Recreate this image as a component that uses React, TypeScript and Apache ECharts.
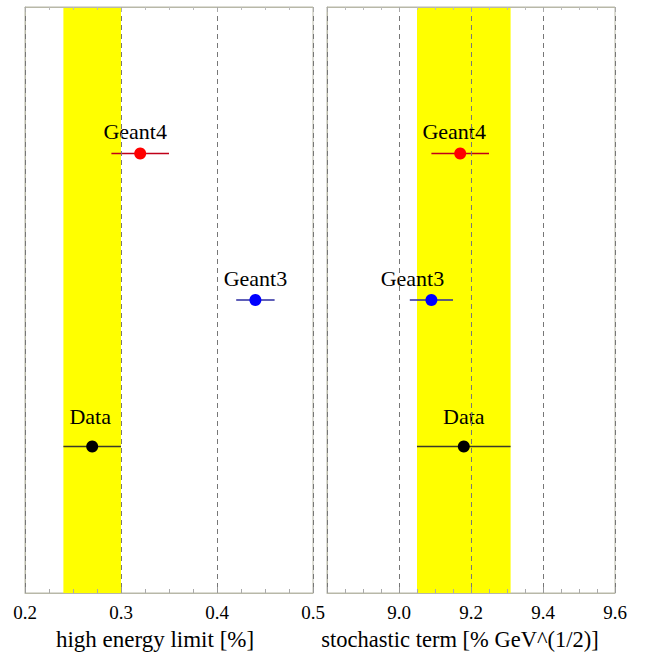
import React, { useEffect, useRef } from "react";
import * as echarts from "echarts";

const models = ["Data", "Geant3", "Geant4"];
const yPos = [1, 2, 3];
const hiEnergyVal = [0.27, 0.44, 0.32];
const hiEnergyErr = [0.03, 0.02, 0.03];
const stochVal = [9.18, 9.09, 9.17];
const stochErr = [0.13, 0.06, 0.08];
const hiEnergyBand = [0.24, 0.3];
const stochBand = [9.05, 9.31];
const hiEnergyAxis = { min: 0.2, max: 0.5, interval: 0.1 };
const stochAxis = { min: 8.8, max: 9.6, interval: 0.2 };

const pointColors = ["#000000", "#0000ff", "#ff0000"];
const barColors = ["#3a3a2a", "#2a2aa0", "#c00018"];
const leftLabelShift = [[-2, -8], [0, 0], [-5, 0]];
const rightLabelShift = [[0, -8], [-19, 0], [-6, 0]];

const FONT = "'Liberation Serif', 'DejaVu Serif', serif";

function bottomAxis(gridIndex: number, r: any, name: string, hideFirst: boolean, namePad: number, nameSize: number) {
  return {
    type: "value",
    gridIndex,
    position: "bottom",
    min: r.min,
    max: r.max,
    interval: r.interval,
    z: 10,
    name,
    nameLocation: "middle",
    nameGap: 35,
    nameTextStyle: { fontFamily: FONT, fontSize: nameSize, color: "#000", padding: [0, namePad, 0, 0] },
    axisLine: { show: true, lineStyle: { color: "#b8b8a8", width: 1 } },
    axisTick: { show: true, inside: true, length: 6, lineStyle: { color: "#999" } },
    minorTick: { show: true, splitNumber: 4, length: 4, lineStyle: { color: "#aaa" } },
    axisLabel: {
      fontFamily: FONT,
      fontSize: 19,
      color: "#000",
      margin: 10,
      formatter: (v: number) => (hideFirst && Math.abs(v - r.min) < 1e-9 ? "" : v.toFixed(1)),
    },
    splitLine: { show: true, lineStyle: { color: "#777", type: [5, 4], width: 1 } },
  };
}

function topAxis(gridIndex: number, r: any) {
  return {
    type: "value",
    gridIndex,
    position: "top",
    min: r.min,
    max: r.max,
    interval: r.interval,
    z: 10,
    axisLine: { show: true, lineStyle: { color: "#b8b8a8", width: 1 } },
    axisTick: { show: true, inside: true, length: 5, lineStyle: { color: "#aaa" } },
    minorTick: { show: true, splitNumber: 4, length: 3, lineStyle: { color: "#bbb" } },
    axisLabel: { show: false },
    splitLine: { show: false },
  };
}

function yAxis(gridIndex: number) {
  return {
    type: "value",
    gridIndex,
    min: 0,
    max: 4,
    axisLine: { show: true, onZero: false, lineStyle: { color: "#b8b8a8" } },
    axisTick: { show: false },
    axisLabel: { show: false },
    splitLine: { show: false },
  };
}

function barSeries(xi: number, yi: number, vals: number[], errs: number[], band: number[]) {
  return {
    type: "custom",
    xAxisIndex: xi,
    yAxisIndex: yi,
    z: 3,
    encode: { x: [0, 1], y: 2 },
    data: models.map((m, i) => [vals[i] - errs[i], vals[i] + errs[i], yPos[i], i]),
    renderItem: (params: any, api: any) => {
      const lo = api.coord([api.value(0), api.value(2)]);
      const hi = api.coord([api.value(1), api.value(2)]);
      return {
        type: "line",
        shape: { x1: lo[0], y1: lo[1], x2: hi[0], y2: hi[1] },
        style: { stroke: barColors[api.value(3)], lineWidth: 1.6 },
      };
    },
    markArea: {
      silent: true,
      itemStyle: { color: "#ffff00", opacity: 1 },
      data: [[{ xAxis: band[0] }, { xAxis: band[1] }]],
    },
  };
}

function pointSeries(xi: number, yi: number, vals: number[], shifts: number[][]) {
  return {
    type: "scatter",
    xAxisIndex: xi,
    yAxisIndex: yi,
    z: 4,
    symbolSize: 12,
    itemStyle: { opacity: 1 },
    data: models.map((m, i) => ({
      name: m,
      value: [vals[i], yPos[i]],
      itemStyle: { color: pointColors[i], opacity: 1 },
      label: {
        show: true,
        position: "top",
        distance: 5,
        offset: shifts[i],
        formatter: m,
        fontFamily: FONT,
        fontSize: 22,
        color: "#000",
        opacity: 1,
      },
    })),
  };
}

export default function App() {
  const ref = useRef<HTMLDivElement>(null);
  useEffect(() => {
    if (!ref.current) return;
    const chart = echarts.init(ref.current, undefined, { renderer: "svg" });
    chart.setOption({
      animation: false,
      backgroundColor: "#ffffff",
      grid: [
        { left: 25, top: 7, width: 288, bottom: 63, show: true, borderColor: "#b8b8a8", backgroundColor: "#fff" },
        { left: 327, top: 7, width: 288, bottom: 63, show: true, borderColor: "#b8b8a8", backgroundColor: "#fff" },
      ],
      xAxis: [
        bottomAxis(0, hiEnergyAxis, "high energy limit [%]", false, 28, 23),
        bottomAxis(1, stochAxis, "stochastic term [% GeV^(1/2)]", true, 22, 22.5),
        topAxis(0, hiEnergyAxis),
        topAxis(1, stochAxis),
      ],
      yAxis: [yAxis(0), yAxis(1)],
      series: [
        barSeries(0, 0, hiEnergyVal, hiEnergyErr, hiEnergyBand),
        pointSeries(0, 0, hiEnergyVal, leftLabelShift),
        barSeries(1, 1, stochVal, stochErr, stochBand),
        pointSeries(1, 1, stochVal, rightLabelShift),
      ],
    });
    return () => chart.dispose();
  }, []);
  return (
    <div
      ref={ref}
      style={{ position: "fixed", left: 0, top: 0, width: 649, height: 656, background: "#fff" }}
    />
  );
}
